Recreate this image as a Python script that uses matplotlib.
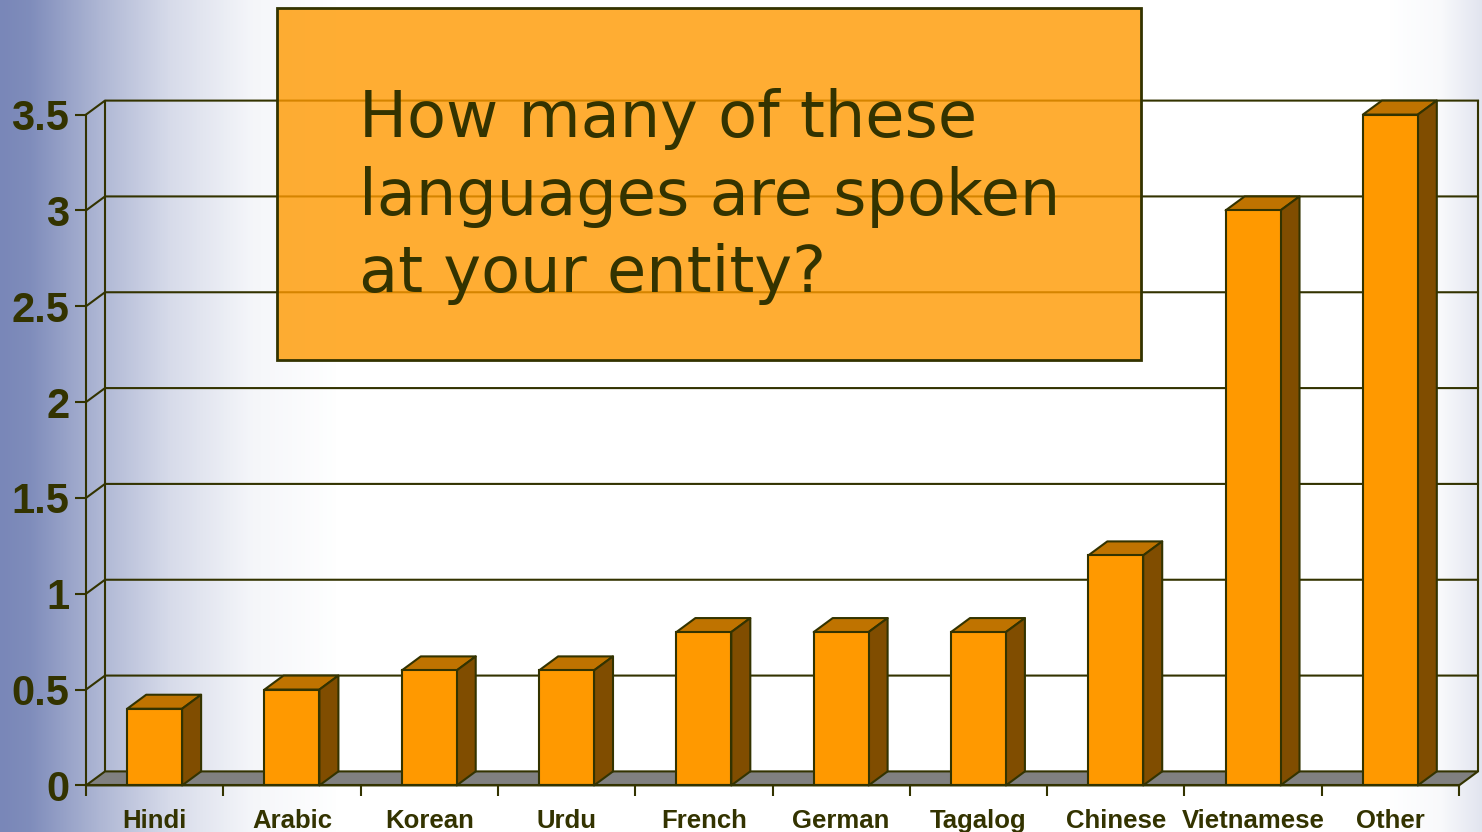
import numpy as np
import matplotlib
matplotlib.use("Agg")
import matplotlib.pyplot as plt
from matplotlib.colors import LinearSegmentedColormap
from matplotlib.patches import Polygon, Rectangle

languages = ["Hindi", "Arabic", "Korean", "Urdu", "French", "German",
             "Tagalog", "Chinese", "Vietnamese", "Other"]
speakers = [0.4, 0.5, 0.6, 0.6, 0.8, 0.8, 0.8, 1.2, 3.0, 3.5]
y_ticks = [0, 0.5, 1, 1.5, 2, 2.5, 3, 3.5]
y_tick_labels = ["0", "0.5", "1", "1.5", "2", "2.5", "3", "3.5"]
question = "How many of these\nlanguages are spoken\nat your entity?"

INK = "#333300"
FRONT = "#ff9900"
TOP = "#bf7300"
SIDE = "#804d00"
FLOOR = "#808080"

W, H = 1482, 832
fig = plt.figure(figsize=(W / 100, H / 100), dpi=100)

# slide background, blue on the left fading out, faint tint on the far right
bg = fig.add_axes([0, 0, 1, 1], zorder=-1)
bg.axis("off")
shade = np.interp(np.arange(W), [0, 30, 100, 170, 250, 340, 1385, 1440, 1481],
                  [1, 0.95, 0.6, 0.3, 0.08, 0, 0, 0.05, 0.22])
cmap = LinearSegmentedColormap.from_list("slide", ["#ffffff", "#7987b8"])
bg.imshow(shade[None, :], aspect="auto", cmap=cmap, vmin=0, vmax=1)

# front plane of the fake 3D chart
x0, x1, y_base, y_top = 86, 1459, 785.4, 114.6
ax = fig.add_axes([x0 / W, 1 - y_base / H, (x1 - x0) / W, (y_base - y_top) / H])
ax.patch.set_alpha(0)
ax.set_xlim(0, len(languages))
ax.set_ylim(0, 3.5)

# depth of the chart box in data units
dx = 19 / ((x1 - x0) / len(languages))
dy = 14 / ((y_base - y_top) / 3.5)
xmax = len(languages)
lw = 1.5


def box_face(points, color, z):
    ax.add_patch(Polygon(points, closed=True, facecolor=color, edgecolor=INK,
                         linewidth=lw, joinstyle="round", clip_on=False, zorder=z))


box_face([(0, 0), (dx, dy), (xmax + dx, dy), (xmax, 0)], FLOOR, 1)

# back wall grid and the diagonal on the left wall
for v in y_ticks:
    if v > 0:
        ax.plot([0, dx, xmax + dx], [v, v + dy, v + dy], color=INK, lw=lw,
                clip_on=False, zorder=0.5)
ax.plot([dx, dx], [dy, 3.5 + dy], color=INK, lw=lw, clip_on=False, zorder=0.5)
ax.plot([xmax + dx, xmax + dx], [dy, 3.5 + dy], color=INK, lw=lw, clip_on=False, zorder=0.5)

# bars, front face through bar() and the top and side faces around it
width = 0.4
centers = np.arange(len(languages)) + 0.5
for i, (c, v) in enumerate(zip(centers, speakers)):
    z = 2 + i
    left, right = c - width / 2, c + width / 2
    box_face([(left, v), (left + dx, v + dy), (right + dx, v + dy), (right, v)], TOP, z)
    box_face([(right, 0), (right + dx, dy), (right + dx, v + dy), (right, v)], SIDE, z)
    ax.bar(c, v, width=width, color=FRONT, edgecolor=INK, linewidth=lw, zorder=z,
           clip_on=False)

for side in ["top", "right"]:
    ax.spines[side].set_visible(False)
for side in ["left", "bottom"]:
    ax.spines[side].set_color(INK)
    ax.spines[side].set_linewidth(lw)
    ax.spines[side].set_zorder(20)

ax.set_yticks(y_ticks)
ax.set_yticklabels(y_tick_labels, fontfamily="Liberation Sans", fontweight="bold",
                   fontsize=30, color=INK)
ax.tick_params(axis="y", length=8, width=lw, color=INK, pad=4)

ax.set_xticks(np.arange(len(languages) + 1))
ax.set_xticklabels([])
ax.tick_params(axis="x", which="major", length=8, width=lw, color=INK)
ax.set_xticks(centers, minor=True)
ax.set_xticklabels(languages, minor=True, fontfamily="Liberation Sans",
                   fontweight="bold", fontsize=18.5, color=INK)
ax.tick_params(axis="x", which="minor", length=0, pad=17)

# question box laid over the chart, gridlines show faintly through it
fig.add_artist(Rectangle((277 / W, 1 - 360 / H), 864 / W, 352 / H,
                         transform=fig.transFigure, facecolor=(1, 0.6, 0, 0.8),
                         edgecolor=INK, linewidth=2, zorder=30))
fig.text(359 / W, 1 - 88 / H, question, color=INK, fontfamily="DejaVu Sans",
         fontsize=46, va="top", ha="left", linespacing=1.32, zorder=31)

fig.savefig("out.png", dpi=100)
